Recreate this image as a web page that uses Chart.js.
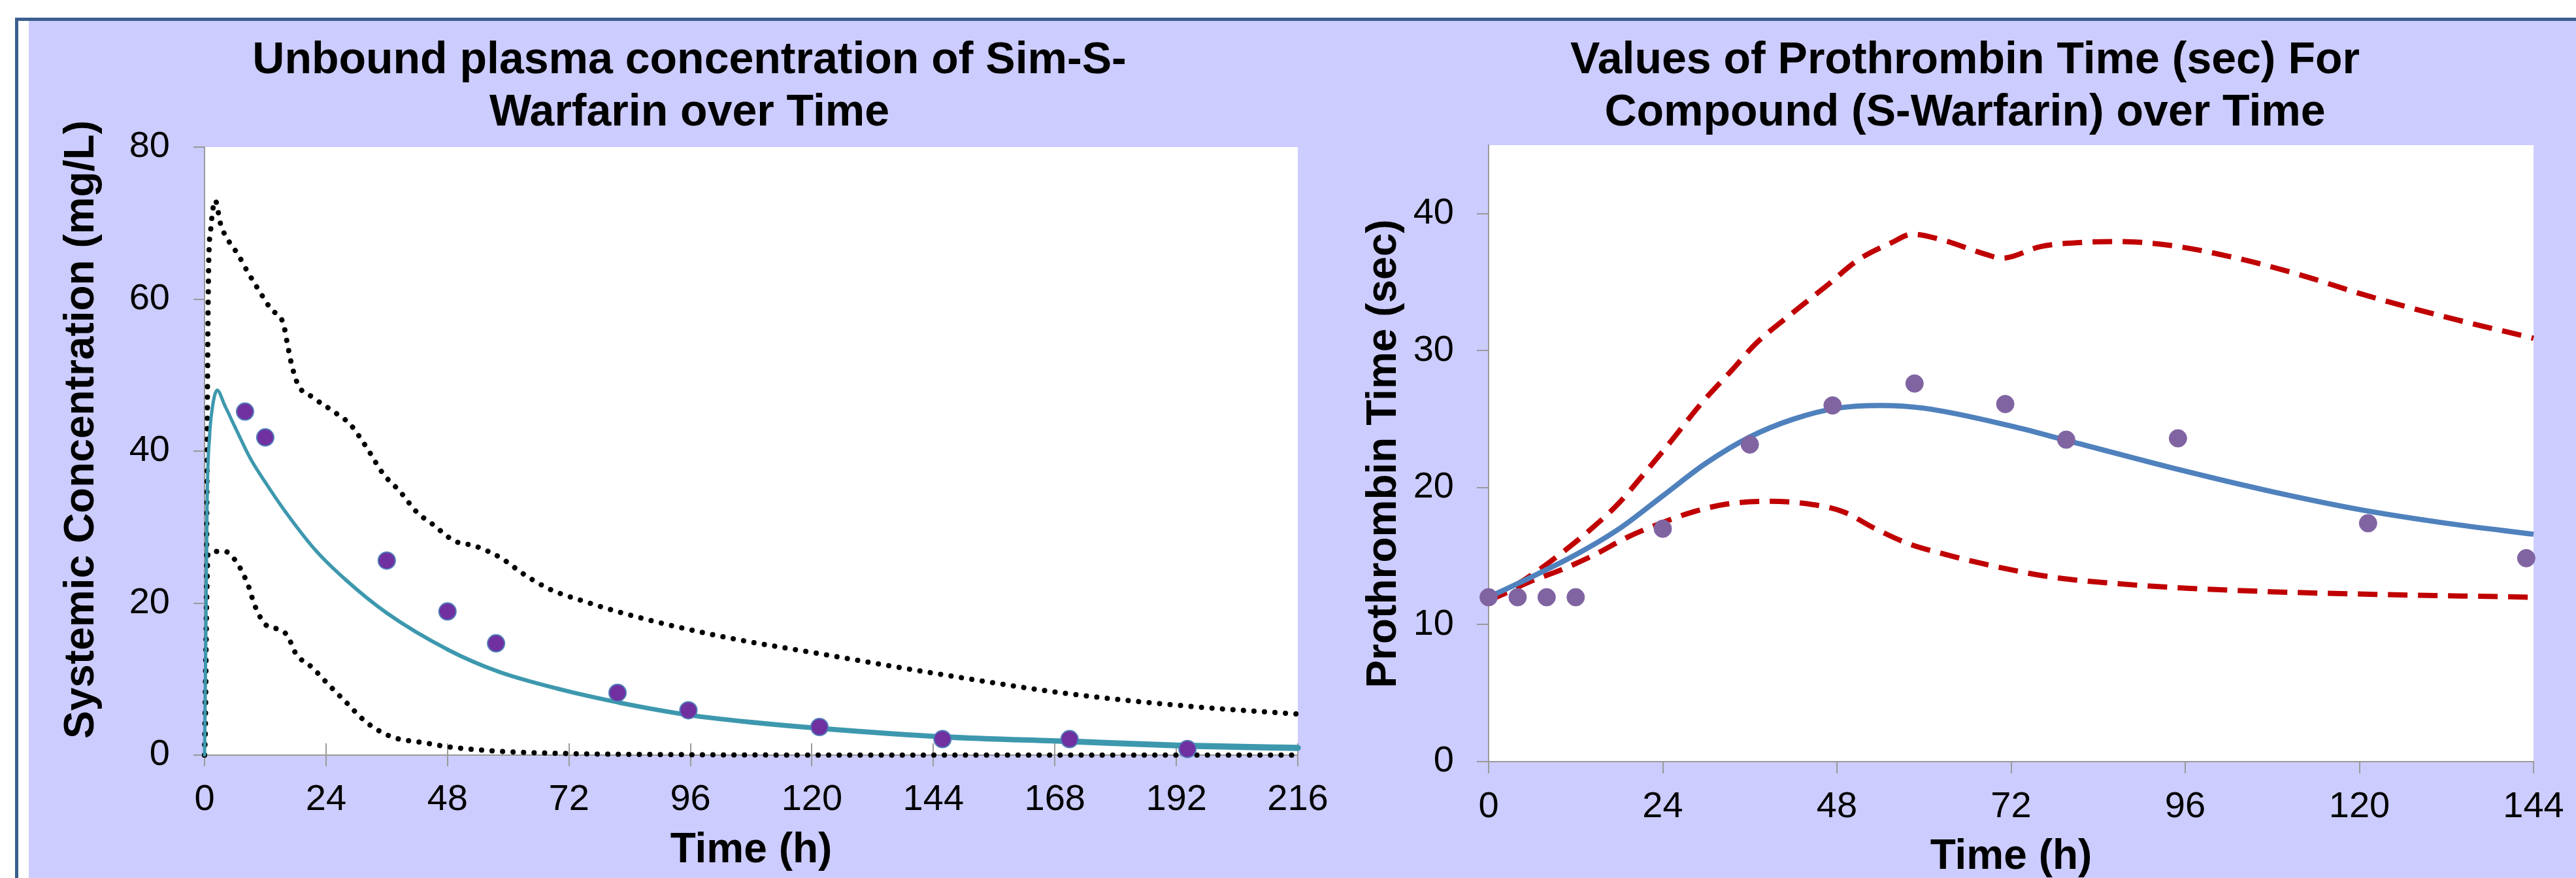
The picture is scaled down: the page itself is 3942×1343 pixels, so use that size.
<!DOCTYPE html>
<html><head><meta charset="utf-8">
<script src="https://cdn.jsdelivr.net/npm/chart.js@4.4.1/dist/chart.umd.min.js"></script>
<style>
html,body{margin:0;padding:0;width:3942px;height:1343px;overflow:hidden;background:#fff;}
#frame{position:absolute;left:23px;top:27px;right:0;bottom:0;border-top:5px solid #3B5F8E;border-left:5px solid #3B5F8E;background:#fff;}
#panel{position:absolute;left:44px;top:32px;right:0;bottom:0;background:#CCCCFF;}
#c1{position:absolute;left:44px;top:32px;}
#c2{position:absolute;left:2070px;top:32px;}
</style></head><body>
<div id="frame"></div><div id="panel"></div>
<canvas id="c1" width="2026" height="1368"></canvas>
<canvas id="c2" width="1872" height="1368"></canvas>
<script>
// ---------- Data: left chart (unbound plasma concentration) ----------
const concObsT   = [8, 12, 36, 48, 57.6, 81.6, 95.6, 121.5, 145.8, 170.9, 194.2];
const concObs    = [45.2, 41.8, 25.6, 18.9, 14.7, 8.2, 5.9, 3.7, 2.1, 2.1, 0.8];
const concMeanT  = [0, 0.25, 0.5, 1, 1.5, 2.5, 4, 6, 9, 12, 16, 22, 28, 36, 48, 58, 70, 82, 96, 108, 122, 146, 171, 193, 216];
const concMean   = [0, 15, 33, 42, 45.5, 48, 46, 43.2, 39.1, 35.9, 32.0, 26.9, 23.0, 18.7, 13.9, 11.0, 8.7, 6.9, 5.25, 4.33, 3.5, 2.4, 1.8, 1.25, 0.95];
const concUpperT = [0, 0.2, 0.4, 0.6, 0.8, 1.2, 2.1, 3.2, 4.9, 6.5, 8.5, 10.6, 13.1, 15.6, 16.4, 17.2, 18.5, 21.3, 25.5, 28.8, 32, 35.3, 38.6, 41.9, 45.2, 49.3, 53.5, 58.4, 63.3, 68.3, 74.9, 81.5, 91.3, 104.5, 121, 145.7, 170.4, 195, 216];
const concUpper  = [0, 5, 25, 50, 64, 69, 73, 69.8, 67.5, 66, 63.6, 61.3, 58.7, 56.7, 54, 51.4, 48.7, 47.1, 45.2, 43.5, 40.5, 37, 34.7, 32, 30.3, 28.2, 27.5, 26, 23.7, 21.8, 20.25, 18.9, 17.2, 15.3, 13.4, 10.6, 8.1, 6.4, 5.4];
const concLowerT = [0, 0.3, 0.7, 2.1, 4, 6.5, 8.7, 9.8, 12, 14.8, 16.4, 18, 21.3, 24.6, 27.9, 32, 37, 43.6, 48.5, 58.4, 72, 96, 130, 216];
const concLower  = [0, 15, 26.5, 26.8, 26.8, 25.2, 22.2, 19.9, 17.2, 16.5, 15.7, 13.4, 11.5, 9.2, 7, 4.3, 2.4, 1.6, 1.06, 0.5, 0.2, 0.05, 0, 0];
const concXTicks = {min: 0, max: 216, step: 24};
const concYTicks = {min: 0, max: 80, step: 20};

// ---------- Data: right chart (prothrombin time) ----------
const ptObsT   = [0, 4, 8, 12, 24, 36, 47.4, 58.7, 71.2, 79.6, 95, 121.2, 143];
const ptObs    = [12, 12, 12, 12, 17.0, 23.15, 26.0, 27.6, 26.1, 23.5, 23.6, 17.4, 14.85];
const ptMeanT  = [0, 6, 12, 18, 24, 30, 36, 42, 48, 54, 60, 72, 80, 96, 108, 120, 132, 144];
const ptMean   = [12.0, 13.5, 15.1, 17.0, 19.4, 21.8, 23.7, 25.0, 25.8, 26.0, 25.8, 24.5, 23.4, 21.2, 19.7, 18.4, 17.4, 16.6];
const ptUpperT = [0, 5, 10, 14.6, 18, 21.4, 25, 29.4, 33.4, 36.8, 42, 46.5, 51, 55.6, 58.4, 62.4, 68.1, 70.8, 76.1, 81.8, 86.9, 93.7, 102.3, 111.4, 120.5, 130.8, 144];
const ptUpper  = [11.8, 13.3, 15.2, 17.2, 18.9, 21, 23.3, 26.2, 28.5, 30.5, 32.8, 34.7, 36.65, 37.9, 38.5, 38.1, 37.1, 36.75, 37.6, 37.9, 37.96, 37.7, 36.85, 35.6, 34.1, 32.6, 30.9];
const ptLowerT = [0, 1.5, 5.5, 10, 14.6, 19.2, 23.7, 28.3, 32.8, 38.5, 44.2, 48.8, 53.3, 57.9, 62.4, 68.1, 77.2, 86.4, 96.6, 108, 122.8, 133, 144];
const ptLower  = [11.8, 12.1, 13.1, 14.0, 15.1, 16.4, 17.4, 18.25, 18.8, 19.0, 18.8, 18.25, 17.0, 15.9, 15.2, 14.45, 13.5, 13.0, 12.65, 12.4, 12.2, 12.1, 12.0];
const ptXTicks = {min: 0, max: 144, step: 24};
const ptYTicks = {min: 0, max: 45, step: 10};

// ---------- Text ----------
const leftTitle  = ['Unbound plasma concentration of Sim-S-', 'Warfarin over Time'];
const rightTitle = ['Values of Prothrombin Time (sec) For', 'Compound (S-Warfarin) over Time'];
const leftYTitle = 'Systemic Concentration (mg/L)';
const rightYTitle = 'Prothrombin Time (sec)';
const xTitle = 'Time (h)';

const FONT = '"Liberation Sans", Arial, Helvetica, sans-serif';
const GRAY = '#9A9A9A';

const zip = (xs, ys) => xs.map((x, i) => ({x: x, y: ys[i]}));

const plotBg = {
  id: 'plotBg',
  beforeDraw(chart) {
    const {ctx, chartArea: a} = chart;
    ctx.save(); ctx.fillStyle = '#ffffff';
    ctx.fillRect(a.left, a.top, a.right - a.left, a.bottom - a.top);
    ctx.restore();
  }
};
const yTitle = {
  id: 'yTitle',
  afterDraw(chart, args, o) {
    if (!o || !o.text) return;
    const ctx = chart.ctx;
    ctx.save();
    ctx.translate(o.x, o.y); ctx.rotate(-Math.PI / 2);
    ctx.font = 'bold 64px ' + FONT; ctx.fillStyle = '#000';
    ctx.textAlign = 'center'; ctx.textBaseline = 'middle';
    ctx.fillText(o.text, 0, 0);
    ctx.restore();
  }
};
const innerTicks = {
  id: 'innerTicks',
  beforeDatasetsDraw(chart, args, o) {
    if (!o || !o.len) return;
    const {ctx, chartArea: a} = chart; const sx = chart.scales.x;
    ctx.save(); ctx.strokeStyle = GRAY; ctx.lineWidth = 2;
    sx.ticks.forEach(t => {
      const px = Math.round(sx.getPixelForValue(t.value));
      ctx.beginPath(); ctx.moveTo(px, a.bottom - o.len); ctx.lineTo(px, a.bottom); ctx.stroke();
    });
    ctx.restore();
  }
};

function makeChart(id, c) {
  return new Chart(document.getElementById(id), {
    type: 'line',
    data: {datasets: c.datasets},
    plugins: [plotBg, yTitle, innerTicks],
    options: {
      responsive: false, animation: false, devicePixelRatio: 1,
      layout: {autoPadding: false, padding: {left: c.padL, top: 0, right: c.padR, bottom: 0}},
      plugins: {
        legend: {display: false}, tooltip: {enabled: false},
        title: {display: true, text: c.title, color: '#000', align: 'center',
          font: {family: FONT, size: 68, weight: 'bold', lineHeight: 80 / 68},
          padding: {top: 21.5, bottom: c.titleBottom}},
        yTitle: {text: c.yTitle, x: c.yTitleX, y: c.yTitleY},
        innerTicks: {len: c.innerTick}
      },
      scales: {
        x: {type: 'linear', min: c.xt.min, max: c.xt.max,
          afterFit: s => { s.height = c.xH; },
          ticks: {stepSize: c.xt.step, color: '#000', font: {family: FONT, size: 56}, padding: c.xTickPad, maxRotation: 0, autoSkip: false},
          grid: {drawOnChartArea: false, color: GRAY, lineWidth: 2, tickLength: c.xTickLen},
          border: {color: GRAY, width: 2},
          title: {display: true, text: xTitle, color: '#000', font: {family: FONT, size: 64, weight: 'bold', lineHeight: 1.2}, padding: {top: 0, bottom: c.xTitlePad}}},
        y: {type: 'linear', min: c.yt.min, max: c.yt.max,
          afterFit: s => { s.width = c.yW; },
          ticks: {stepSize: c.yt.step, includeBounds: false, color: '#000', font: {family: FONT, size: 56}, padding: c.yTickPad},
          grid: {drawOnChartArea: false, color: GRAY, lineWidth: 2, tickLength: c.yTickLen},
          border: {color: GRAY, width: 2}}
      }
    }
  });
}

const lineBase = {pointRadius: 0, fill: false, cubicInterpolationMode: 'monotone', clip: false};

makeChart('c1', {
  title: leftTitle, yTitle: leftYTitle, yTitleX: 81, yTitleY: 625,
  padL: 80, padR: 84, titleBottom: 11.5, yW: 189, xH: 245,
  xTickPad: 18, xTickLen: 17, xTitlePad: 60.6, yTickPad: 36, yTickLen: 17, innerTick: 18,
  xt: concXTicks, yt: concYTicks,
  datasets: [
    {label: 'Observed', data: zip(concObsT, concObs), showLine: false, pointRadius: 13, pointBackgroundColor: '#7030A0', pointBorderColor: '#4F7CB8', pointBorderWidth: 2, clip: false},
    Object.assign({}, lineBase, {label: 'Mean', data: zip(concMeanT, concMean), borderColor: '#3D98AE', borderWidth: 7,
      borderCapStyle: 'round', borderJoinStyle: 'round',
      segment: {borderWidth: ctx => 5 + 5 * (ctx.p0.parsed.x / 216)}}),
    Object.assign({}, lineBase, {label: '95th', data: zip(concUpperT, concUpper), borderColor: '#000', borderWidth: 8, borderDash: [0.1, 16], borderCapStyle: 'round'}),
    Object.assign({}, lineBase, {label: '5th', data: zip(concLowerT, concLower), borderColor: '#000', borderWidth: 8, borderDash: [0.1, 16], borderCapStyle: 'round'})
  ]
});

makeChart('c2', {
  title: rightTitle, yTitle: rightYTitle, yTitleX: 48, yTitleY: 662,
  padL: 67, padR: 65, titleBottom: 8.5, yW: 141, xH: 235,
  xTickPad: 18, xTickLen: 18, xTitlePad: 50.1, yTickPad: 35, yTickLen: 18, innerTick: 0,
  xt: ptXTicks, yt: ptYTicks,
  datasets: [
    {label: 'Observed', data: zip(ptObsT, ptObs), showLine: false, pointRadius: 13.5, pointBackgroundColor: '#8064A2', pointBorderColor: '#8064A2', pointBorderWidth: 1, clip: false},
    Object.assign({}, lineBase, {label: 'Mean', data: zip(ptMeanT, ptMean), borderColor: '#4F81BD', borderWidth: 8}),
    Object.assign({}, lineBase, {label: 'Upper', data: zip(ptUpperT, ptUpper), borderColor: '#C00000', borderWidth: 8, borderDash: [30, 16]}),
    Object.assign({}, lineBase, {label: 'Lower', data: zip(ptLowerT, ptLower), borderColor: '#C00000', borderWidth: 8, borderDash: [30, 16]})
  ]
});
</script>
</body></html>
